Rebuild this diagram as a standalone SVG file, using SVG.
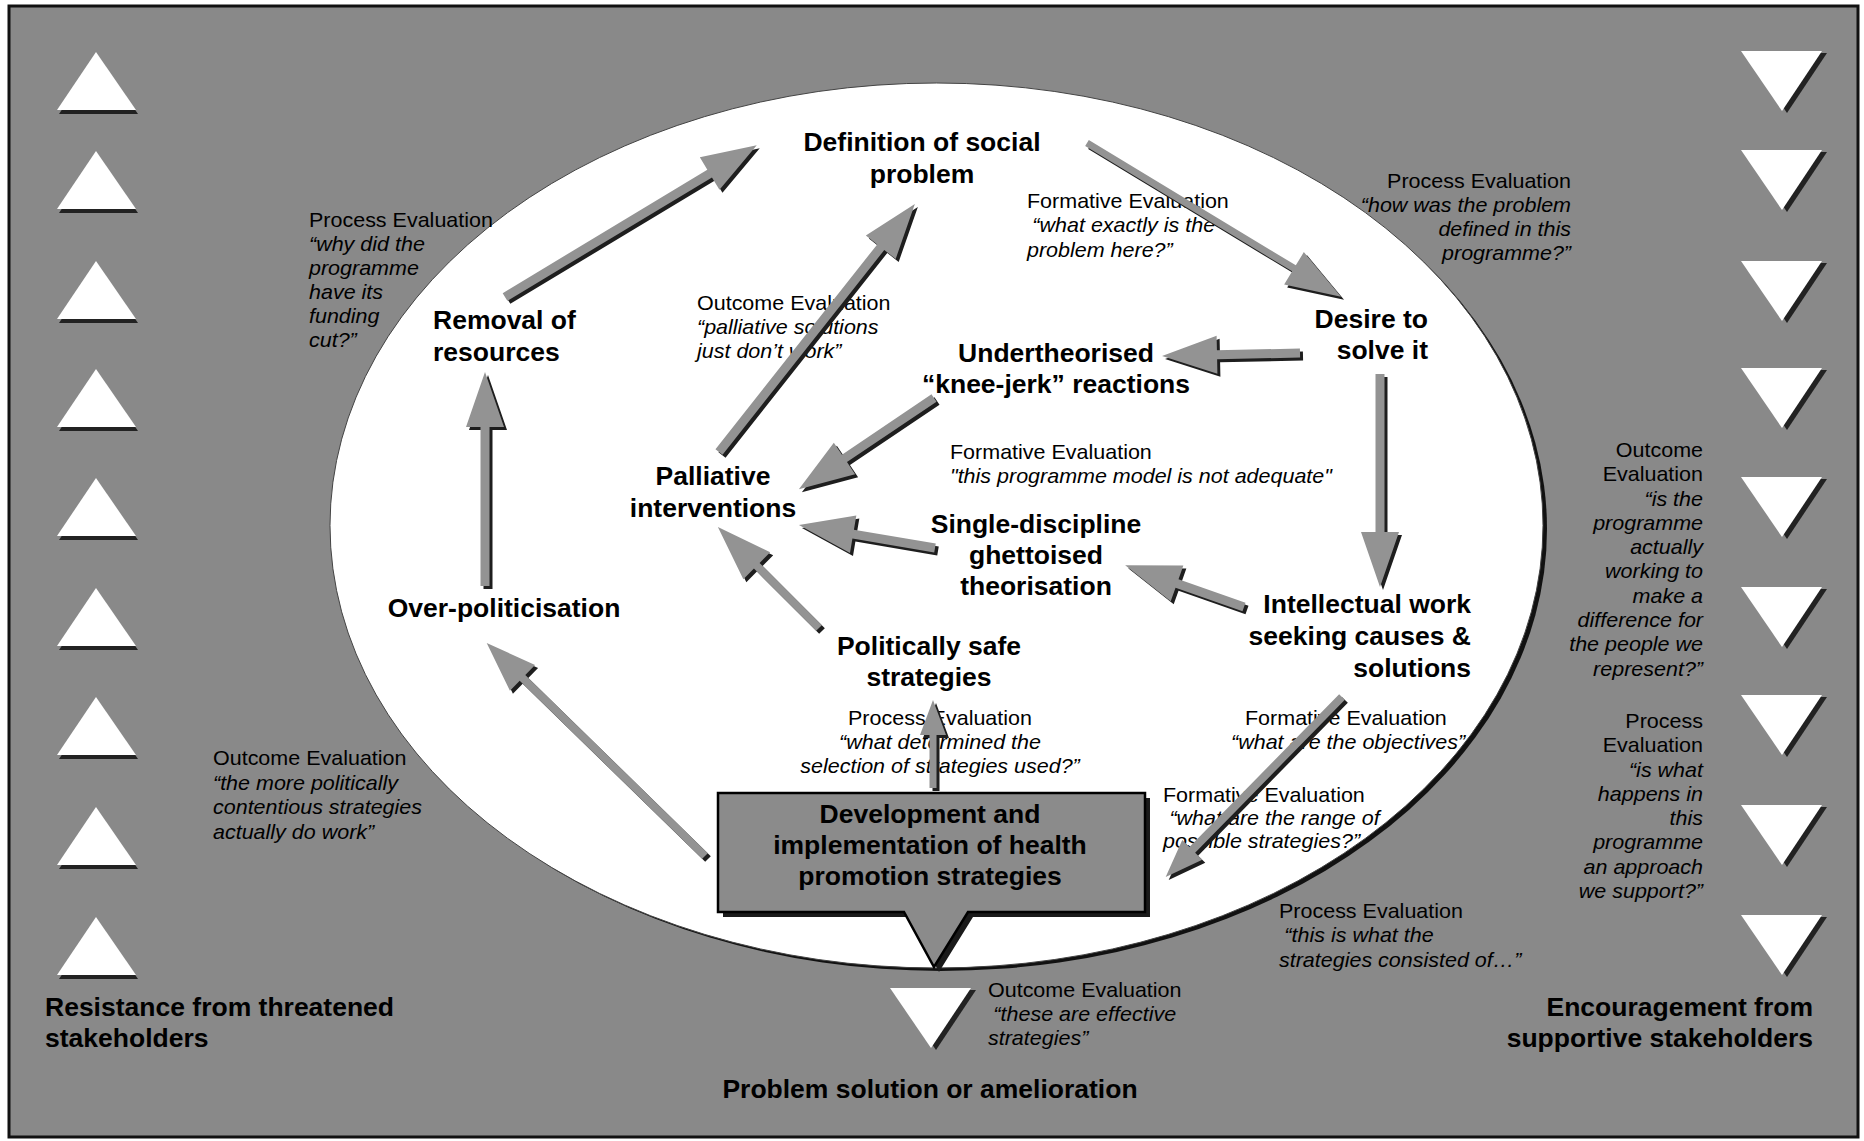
<svg xmlns="http://www.w3.org/2000/svg" width="1864" height="1141" viewBox="0 0 1864 1141">
<style>
.bg{fill:#898989;stroke:#111;stroke-width:3}
.tri{fill:#fff}
.trs{fill:#222}
.ar{fill:#939393}
.sh{fill:#1e1e1e}
.nd{font-family:"Liberation Sans",Arial,sans-serif;font-weight:bold;font-size:26.5px;fill:#000}
.ev{font-family:"Liberation Sans",Arial,sans-serif;font-size:20px;fill:#000}
.it{font-style:italic}
.mid{text-anchor:middle}
.end{text-anchor:end}
</style>
<defs>
<polygon id="tup" points="96,0 136,58 57,58"/>
<polygon id="tdn" points="0,0 81,0 41,60"/>
</defs>
<rect x="0" y="0" width="1864" height="1141" fill="#fff"/>
<rect class="bg" x="9" y="6" width="1849" height="1131"/>

<g id="left-triangles">
<g transform="translate(0 52)"><use href="#tup" class="trs" x="2" y="4"/><use href="#tup" class="tri"/></g>
<g transform="translate(0 151)"><use href="#tup" class="trs" x="2" y="4"/><use href="#tup" class="tri"/></g>
<g transform="translate(0 261)"><use href="#tup" class="trs" x="2" y="4"/><use href="#tup" class="tri"/></g>
<g transform="translate(0 369)"><use href="#tup" class="trs" x="2" y="4"/><use href="#tup" class="tri"/></g>
<g transform="translate(0 478)"><use href="#tup" class="trs" x="2" y="4"/><use href="#tup" class="tri"/></g>
<g transform="translate(0 588)"><use href="#tup" class="trs" x="2" y="4"/><use href="#tup" class="tri"/></g>
<g transform="translate(0 697)"><use href="#tup" class="trs" x="2" y="4"/><use href="#tup" class="tri"/></g>
<g transform="translate(0 807)"><use href="#tup" class="trs" x="2" y="4"/><use href="#tup" class="tri"/></g>
<g transform="translate(0 917)"><use href="#tup" class="trs" x="2" y="4"/><use href="#tup" class="tri"/></g>
</g>

<g id="right-triangles">
<g transform="translate(1741 51)"><use href="#tdn" class="trs" x="5" y="2"/><use href="#tdn" class="tri"/></g>
<g transform="translate(1741 150)"><use href="#tdn" class="trs" x="5" y="2"/><use href="#tdn" class="tri"/></g>
<g transform="translate(1741 261)"><use href="#tdn" class="trs" x="5" y="2"/><use href="#tdn" class="tri"/></g>
<g transform="translate(1741 368)"><use href="#tdn" class="trs" x="5" y="2"/><use href="#tdn" class="tri"/></g>
<g transform="translate(1741 477)"><use href="#tdn" class="trs" x="5" y="2"/><use href="#tdn" class="tri"/></g>
<g transform="translate(1741 587)"><use href="#tdn" class="trs" x="5" y="2"/><use href="#tdn" class="tri"/></g>
<g transform="translate(1741 695)"><use href="#tdn" class="trs" x="5" y="2"/><use href="#tdn" class="tri"/></g>
<g transform="translate(1741 805)"><use href="#tdn" class="trs" x="5" y="2"/><use href="#tdn" class="tri"/></g>
<g transform="translate(1741 915)"><use href="#tdn" class="trs" x="5" y="2"/><use href="#tdn" class="tri"/></g>
</g>

<g id="ellipse">
<ellipse cx="941" cy="529" rx="606" ry="442" fill="#111"/>
<ellipse cx="936.5" cy="525.5" rx="606.5" ry="442.5" fill="#fff" stroke="#444" stroke-width="1"/>
</g>

<g id="n-development">
<path d="M723,798 H1150 V917 H973 L939,972 L909,917 H723 Z" fill="#1a1a1a"/>
<path d="M718,793 H1145 V912 H968 L934,967 L904,912 H718 Z" fill="#8b8b8b" stroke="#000" stroke-width="2.5"/>
<text class="nd mid"><tspan x="930" y="823">Development and</tspan><tspan x="930" y="854">implementation of health</tspan><tspan x="930" y="885">promotion strategies</tspan></text>
</g>

<g id="n-solution">
<g transform="translate(890 988)"><use href="#tdn" class="trs" x="5" y="2"/><use href="#tdn" class="tri"/></g>
<text class="nd mid" x="930" y="1098">Problem solution or amelioration</text>
</g>

<g id="evaluations">
<g id="ev1" transform="translate(309 227) scale(1.075 1)"><text class="ev"><tspan x="0" y="0">Process Evaluation</tspan><tspan class="it" x="0" y="24">“why did the</tspan><tspan class="it" x="0" y="48">programme</tspan><tspan class="it" x="0" y="72">have its</tspan><tspan class="it" x="0" y="96">funding</tspan><tspan class="it" x="0" y="120">cut?”</tspan></text></g>
<g id="ev2" transform="translate(1027 208) scale(1.075 1)"><text class="ev"><tspan x="0" y="0">Formative Evaluation</tspan><tspan class="it" x="5" y="24.5">“what exactly is the</tspan><tspan class="it" x="0" y="49">problem here?”</tspan></text></g>
<g id="ev3" transform="translate(1571 188) scale(1.075 1)"><text class="ev end"><tspan x="0" y="0">Process Evaluation</tspan><tspan class="it" x="0" y="24">“how was the problem</tspan><tspan class="it" x="0" y="48">defined in this</tspan><tspan class="it" x="0" y="72">programme?”</tspan></text></g>
<g id="ev4" transform="translate(697 310) scale(1.075 1)"><text class="ev"><tspan x="0" y="0">Outcome Evaluation</tspan><tspan class="it" x="0" y="24">“palliative solutions</tspan><tspan class="it" x="0" y="48">just don’t work”</tspan></text></g>
<g id="ev5" transform="translate(950 459) scale(1.075 1)"><text class="ev"><tspan x="0" y="0">Formative Evaluation</tspan><tspan class="it" x="0" y="24.5">"this programme model is not adequate"</tspan></text></g>
<g id="ev6" transform="translate(1703 457) scale(1.075 1)"><text class="ev end"><tspan x="0" y="0">Outcome</tspan><tspan x="0" y="24.3">Evaluation</tspan><tspan class="it" x="0" y="48.6">“is the</tspan><tspan class="it" x="0" y="72.9">programme</tspan><tspan class="it" x="0" y="97.2">actually</tspan><tspan class="it" x="0" y="121.5">working to</tspan><tspan class="it" x="0" y="145.8">make a</tspan><tspan class="it" x="0" y="170.1">difference for</tspan><tspan class="it" x="0" y="194.4">the people we</tspan><tspan class="it" x="0" y="218.7">represent?”</tspan></text></g>
<g id="ev7" transform="translate(1703 728) scale(1.075 1)"><text class="ev end"><tspan x="0" y="0">Process</tspan><tspan x="0" y="24.3">Evaluation</tspan><tspan class="it" x="0" y="48.6">“is what</tspan><tspan class="it" x="0" y="72.9">happens in</tspan><tspan class="it" x="0" y="97.2">this</tspan><tspan class="it" x="0" y="121.5">programme</tspan><tspan class="it" x="0" y="145.8">an approach</tspan><tspan class="it" x="0" y="170.1">we support?”</tspan></text></g>
<g id="ev8" transform="translate(940 725) scale(1.075 1)"><text class="ev mid"><tspan x="0" y="0">Process Evaluation</tspan><tspan class="it" x="0" y="24">“what determined the</tspan><tspan class="it" x="0" y="48">selection of strategies used?”</tspan></text></g>
<g id="ev9" transform="translate(1245 725) scale(1.075 1)"><text class="ev"><tspan x="0" y="0">Formative Evaluation</tspan><tspan class="it" x="-13" y="24">“what are the objectives”</tspan></text></g>
<g id="ev10" transform="translate(1163 802) scale(1.075 1)"><text class="ev"><tspan x="0" y="0">Formative Evaluation</tspan><tspan class="it" x="6" y="23">“what are the range of</tspan><tspan class="it" x="0" y="46">possible strategies?”</tspan></text></g>
<g id="ev11" transform="translate(1279 918) scale(1.075 1)"><text class="ev"><tspan x="0" y="0">Process Evaluation</tspan><tspan class="it" x="5" y="24.5">“this is what the</tspan><tspan class="it" x="0" y="49">strategies consisted of…”</tspan></text></g>
<g id="ev12" transform="translate(988 997) scale(1.075 1)"><text class="ev"><tspan x="0" y="0">Outcome Evaluation</tspan><tspan class="it" x="5" y="24">“these are effective</tspan><tspan class="it" x="0" y="48">strategies”</tspan></text></g>
<g id="ev13" transform="translate(213 765) scale(1.075 1)"><text class="ev"><tspan x="0" y="0">Outcome Evaluation</tspan><tspan class="it" x="0" y="24.7">“the more politically</tspan><tspan class="it" x="0" y="49.4">contentious strategies</tspan><tspan class="it" x="0" y="74.1">actually do work”</tspan></text></g>
</g>

<g id="connectors">
<g id="a1"><polygon class="sh" transform="translate(508 300) rotate(-31.1)" points="0,-4.5 239,-4.5 239,-19 294,0 239,19 239,4.5 0,4.5"/><polygon class="ar" transform="translate(505 297) rotate(-31.1)" points="0,-4.5 239,-4.5 239,-19 294,0 239,19 239,4.5 0,4.5"/></g>
<g id="a2"><polygon class="sh" transform="translate(722 455) rotate(-51.7)" points="0,-4.5 261,-4.5 261,-19 316,0 261,19 261,4.5 0,4.5"/><polygon class="ar" transform="translate(719 452) rotate(-51.7)" points="0,-4.5 261,-4.5 261,-19 316,0 261,19 261,4.5 0,4.5"/></g>
<g id="a3"><polygon class="sh" transform="translate(1090 146) rotate(31.2)" points="0,-3.5 242,-3.5 242,-19 297,0 242,19 242,3.5 0,3.5"/><polygon class="ar" transform="translate(1087 143) rotate(31.2)" points="0,-3.5 242,-3.5 242,-19 297,0 242,19 242,3.5 0,3.5"/></g>
<g id="a4"><polygon class="sh" transform="translate(1303 356) rotate(178.8)" points="0,-4.5 83,-4.5 83,-19 138,0 83,19 83,4.5 0,4.5"/><polygon class="ar" transform="translate(1300 353) rotate(178.8)" points="0,-4.5 83,-4.5 83,-19 138,0 83,19 83,4.5 0,4.5"/></g>
<g id="a5"><polygon class="sh" transform="translate(1383 377) rotate(90)" points="0,-4.5 158,-4.5 158,-19 213,0 158,19 158,4.5 0,4.5"/><polygon class="ar" transform="translate(1380 374) rotate(90)" points="0,-4.5 158,-4.5 158,-19 213,0 158,19 158,4.5 0,4.5"/></g>
<g id="a6"><polygon class="sh" transform="translate(937 401) rotate(146)" points="0,-4.5 108,-4.5 108,-19 163,0 108,19 108,4.5 0,4.5"/><polygon class="ar" transform="translate(934 398) rotate(146)" points="0,-4.5 108,-4.5 108,-19 163,0 108,19 108,4.5 0,4.5"/></g>
<g id="a7"><polygon class="sh" transform="translate(938 551) rotate(-170.4)" points="0,-4.5 83,-4.5 83,-19 138,0 83,19 83,4.5 0,4.5"/><polygon class="ar" transform="translate(935 548) rotate(-170.4)" points="0,-4.5 83,-4.5 83,-19 138,0 83,19 83,4.5 0,4.5"/></g>
<g id="a8"><polygon class="sh" transform="translate(1247 610) rotate(-160.6)" points="0,-4.5 71,-4.5 71,-19 126,0 71,19 71,4.5 0,4.5"/><polygon class="ar" transform="translate(1244 607) rotate(-160.6)" points="0,-4.5 71,-4.5 71,-19 126,0 71,19 71,4.5 0,4.5"/></g>
<g id="a9"><polygon class="sh" transform="translate(822 631) rotate(-135)" points="0,-4 88,-4 88,-19 143,0 88,19 88,4 0,4"/><polygon class="ar" transform="translate(819 628) rotate(-135)" points="0,-4 88,-4 88,-19 143,0 88,19 88,4 0,4"/></g>
<g id="a10"><polygon class="sh" transform="translate(936 791) rotate(-90)" points="0,-3.5 53,-3.5 53,-13 88,0 53,13 53,3.5 0,3.5"/><polygon class="ar" transform="translate(933 788) rotate(-90)" points="0,-3.5 53,-3.5 53,-13 88,0 53,13 53,3.5 0,3.5"/></g>
<g id="a11"><polygon class="sh" transform="translate(708 859) rotate(-135.7)" points="0,-4 255,-4 255,-18 305,0 255,18 255,4 0,4"/><polygon class="ar" transform="translate(705 856) rotate(-135.7)" points="0,-4 255,-4 255,-18 305,0 255,18 255,4 0,4"/></g>
<g id="a12"><polygon class="sh" transform="translate(488 589) rotate(-90)" points="0,-4.5 159,-4.5 159,-19 214,0 159,19 159,4.5 0,4.5"/><polygon class="ar" transform="translate(485 586) rotate(-90)" points="0,-4.5 159,-4.5 159,-19 214,0 159,19 159,4.5 0,4.5"/></g>
<g id="a13"><polygon class="sh" transform="translate(1345 700) rotate(134.4)" points="0,-4 214,-4 214,-14 252,0 214,14 214,4 0,4"/><polygon class="ar" transform="translate(1342 697) rotate(134.4)" points="0,-4 214,-4 214,-14 252,0 214,14 214,4 0,4"/></g>
</g>

<g id="n-definition"><text class="nd mid"><tspan x="922" y="151">Definition of social</tspan><tspan x="922" y="183">problem</tspan></text></g>
<g id="n-removal"><text class="nd"><tspan x="433" y="329">Removal of</tspan><tspan x="433" y="361">resources</tspan></text></g>
<g id="n-desire"><text class="nd end"><tspan x="1428" y="328">Desire to</tspan><tspan x="1428" y="359">solve it</tspan></text></g>
<g id="n-undertheorised"><text class="nd mid"><tspan x="1056" y="362">Undertheorised</tspan><tspan x="1056" y="393">“knee-jerk” reactions</tspan></text></g>
<g id="n-palliative"><text class="nd mid"><tspan x="713" y="485">Palliative</tspan><tspan x="713" y="517">interventions</tspan></text></g>
<g id="n-single"><text class="nd mid"><tspan x="1036" y="533">Single-discipline</tspan><tspan x="1036" y="564">ghettoised</tspan><tspan x="1036" y="595">theorisation</tspan></text></g>
<g id="n-over"><text class="nd mid" x="504" y="617">Over-politicisation</text></g>
<g id="n-intellectual"><text class="nd end"><tspan x="1471" y="613">Intellectual work</tspan><tspan x="1471" y="645">seeking causes &amp;</tspan><tspan x="1471" y="677">solutions</tspan></text></g>
<g id="n-safe"><text class="nd mid"><tspan x="929" y="655">Politically safe</tspan><tspan x="929" y="686">strategies</tspan></text></g>
<g id="n-resistance"><text class="nd"><tspan x="45" y="1016">Resistance from threatened</tspan><tspan x="45" y="1047">stakeholders</tspan></text></g>
<g id="n-encouragement"><text class="nd end"><tspan x="1813" y="1016">Encouragement from</tspan><tspan x="1813" y="1047">supportive stakeholders</tspan></text></g>
</svg>
